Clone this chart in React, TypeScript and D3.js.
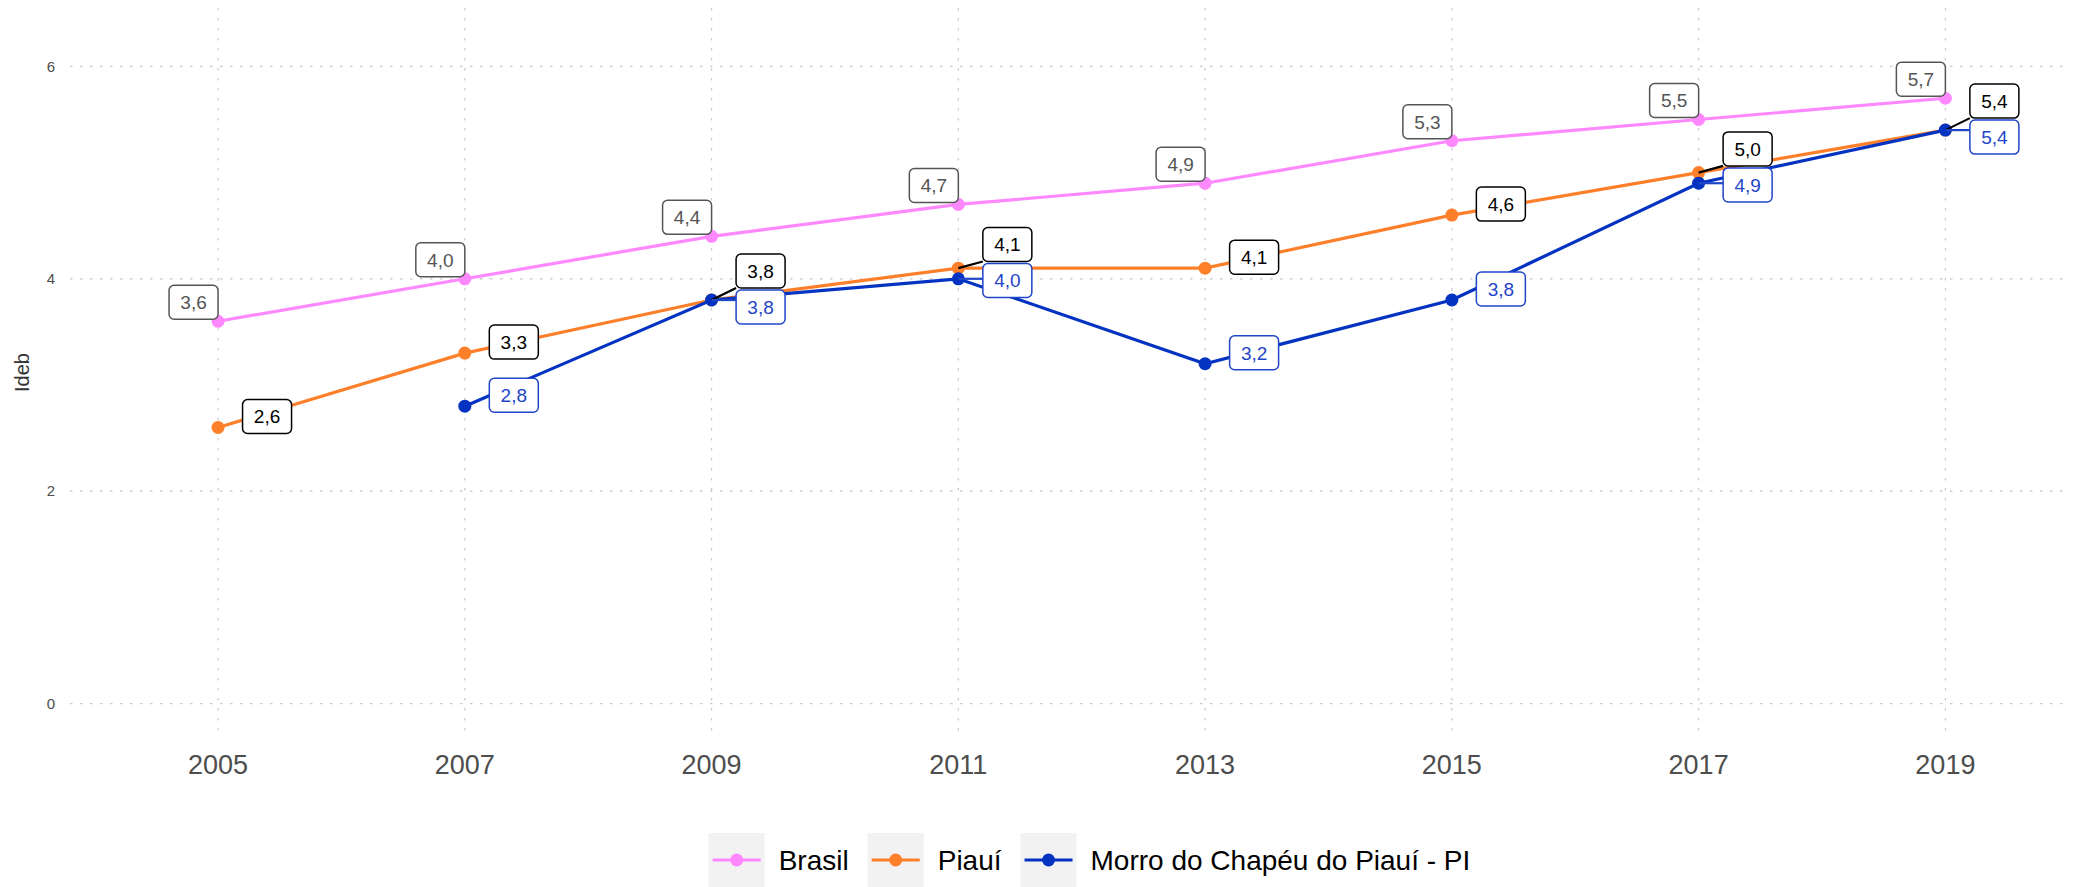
import React, { useRef, useEffect } from 'react';
import * as d3 from 'd3';

const years = [2005, 2007, 2009, 2011, 2013, 2015, 2017, 2019];
const brasil = [3.6, 4.0, 4.4, 4.7, 4.9, 5.3, 5.5, 5.7];
const piaui = [2.6, 3.3, 3.8, 4.1, 4.1, 4.6, 5.0, 5.4];
const morro = [null, 2.8, 3.8, 4.0, 3.2, 3.8, 4.9, 5.4];
const yTicks = [0, 2, 4, 6];
const seriesNames = ['Brasil', 'Piauí', 'Morro do Chapéu do Piauí - PI'];

const FONT = "'Liberation Sans', Arial, Helvetica, sans-serif";

const series = [
  { name: seriesNames[0], values: brasil, color: '#ff88ff', labelColor: '#555555', side: 'left' },
  { name: seriesNames[1], values: piaui, color: '#fe7f2a', labelColor: '#000000', side: 'right' },
  { name: seriesNames[2], values: morro, color: '#0433c2', labelColor: '#1f45c8', side: 'right' },
];

const fmt = (v) => v.toFixed(1).replace('.', ',');

const App = () => {
  const svgRef = useRef();

  useEffect(() => {
    const width = 2080;
    const height = 887;
    const panel = { left: 70, right: 2070, top: 8, bottom: 737 };

    const svg = d3.select(svgRef.current);
    svg.selectAll('*').remove();
    svg.attr('width', width).attr('height', height);

    const x = d3.scaleLinear().domain([2003.8, 2020.01]).range([panel.left, panel.right]);
    const y = d3.scaleLinear().domain([-0.315, 6.55]).range([panel.bottom, panel.top]);

    // grid
    const grid = svg.append('g');
    grid.selectAll('line.h')
      .data(yTicks)
      .enter()
      .append('line')
      .attr('x1', panel.left)
      .attr('x2', panel.right)
      .attr('y1', d => y(d))
      .attr('y2', d => y(d))
      .attr('stroke', '#c8c8c8')
      .attr('stroke-width', 1.2)
      .attr('stroke-dasharray', '2.5,7.5');
    grid.selectAll('line.v')
      .data(years)
      .enter()
      .append('line')
      .attr('x1', d => x(d))
      .attr('x2', d => x(d))
      .attr('y1', panel.top)
      .attr('y2', panel.bottom)
      .attr('stroke', '#c8c8c8')
      .attr('stroke-width', 1.2)
      .attr('stroke-dasharray', '2.5,7.5');

    // axes text
    svg.append('g')
      .selectAll('text')
      .data(yTicks)
      .enter()
      .append('text')
      .attr('x', 55)
      .attr('y', d => y(d))
      .attr('dy', '0.35em')
      .attr('text-anchor', 'end')
      .attr('font-family', FONT)
      .attr('font-size', 15)
      .attr('fill', '#4d4d4d')
      .text(d => d);

    svg.append('g')
      .selectAll('text')
      .data(years)
      .enter()
      .append('text')
      .attr('x', d => x(d))
      .attr('y', 774)
      .attr('text-anchor', 'middle')
      .attr('font-family', FONT)
      .attr('font-size', 27)
      .attr('fill', '#4d4d4d')
      .text(d => d);

    svg.append('text')
      .attr('transform', `translate(29,${(panel.top + panel.bottom) / 2}) rotate(-90)`)
      .attr('text-anchor', 'middle')
      .attr('font-family', FONT)
      .attr('font-size', 20)
      .attr('fill', '#333333')
      .text('Ideb');

    // lines and points
    const line = d3.line()
      .defined(d => d.v != null)
      .x(d => x(d.year))
      .y(d => y(d.v));

    series.forEach(s => {
      const pts = years.map((year, i) => ({ year, v: s.values[i] }));
      const g = svg.append('g');
      g.append('path')
        .datum(pts)
        .attr('d', line)
        .attr('fill', 'none')
        .attr('stroke', s.color)
        .attr('stroke-width', 3.2);
      g.selectAll('circle')
        .data(pts.filter(d => d.v != null))
        .enter()
        .append('circle')
        .attr('cx', d => x(d.year))
        .attr('cy', d => y(d.v))
        .attr('r', 6.5)
        .attr('fill', s.color);
    });

    // labels, with a small vertical repel for the right-hand ones
    const boxW = 49;
    const boxH = 34;
    const minSep = 36;
    const labels = [];
    series.forEach(s => {
      years.forEach((year, i) => {
        const v = s.values[i];
        if (v == null) return;
        const px = x(year);
        const py = y(v);
        const left = s.side === 'left';
        const cx = left ? px - 24.5 : px + 49;
        const cy = left ? py - 19 : py - 11;
        labels.push({ s, year, v, px, py, cx, cy, cy0: cy, left });
      });
    });

    years.forEach(year => {
      const group = labels.filter(l => l.year === year && !l.left);
      for (let it = 0; it < 20; it++) {
        group.sort((a, b) => a.cy - b.cy);
        for (let k = 0; k < group.length - 1; k++) {
          const a = group[k];
          const b = group[k + 1];
          const gap = b.cy - a.cy;
          if (gap < minSep) {
            const push = (minSep - gap) / 2;
            a.cy -= push;
            b.cy += push;
          }
        }
      }
    });

    const segs = svg.append('g');
    labels.forEach(l => {
      if (Math.abs(l.cy - l.cy0) < 5) return;
      const bx0 = l.cx - boxW / 2;
      const bx1 = l.cx + boxW / 2;
      const by0 = l.cy - boxH / 2;
      const by1 = l.cy + boxH / 2;
      const tx = Math.max(bx0, Math.min(l.px, bx1));
      const ty = Math.max(by0, Math.min(l.py, by1));
      segs.append('line')
        .attr('x1', l.px)
        .attr('y1', l.py)
        .attr('x2', tx)
        .attr('y2', ty)
        .attr('stroke', l.s.labelColor)
        .attr('stroke-width', 2.2);
    });

    const lab = svg.append('g');
    labels.forEach(l => {
      lab.append('rect')
        .attr('x', l.cx - boxW / 2)
        .attr('y', l.cy - boxH / 2)
        .attr('width', boxW)
        .attr('height', boxH)
        .attr('rx', 5)
        .attr('fill', '#ffffff')
        .attr('stroke', l.s.labelColor)
        .attr('stroke-width', 1.5);
      lab.append('text')
        .attr('x', l.cx)
        .attr('y', l.cy)
        .attr('dy', '0.36em')
        .attr('text-anchor', 'middle')
        .attr('font-family', FONT)
        .attr('font-size', 19)
        .attr('fill', l.s.labelColor)
        .text(fmt(l.v));
    });

    // legend
    const legend = svg.append('g');
    let lx = 0;
    const keyW = 56;
    const keyTop = 833;
    const keyH = 54;
    series.forEach(s => {
      const item = legend.append('g').attr('transform', `translate(${lx},0)`);
      item.append('rect')
        .attr('x', 0)
        .attr('y', keyTop)
        .attr('width', keyW)
        .attr('height', keyH)
        .attr('fill', '#f2f2f2');
      item.append('line')
        .attr('x1', 4)
        .attr('x2', keyW - 4)
        .attr('y1', keyTop + keyH / 2)
        .attr('y2', keyTop + keyH / 2)
        .attr('stroke', s.color)
        .attr('stroke-width', 3.2);
      item.append('circle')
        .attr('cx', keyW / 2)
        .attr('cy', keyTop + keyH / 2)
        .attr('r', 6.5)
        .attr('fill', s.color);
      const t = item.append('text')
        .attr('x', keyW + 14)
        .attr('y', keyTop + keyH / 2)
        .attr('dy', '0.35em')
        .attr('font-family', FONT)
        .attr('font-size', 28)
        .attr('fill', '#000000')
        .text(s.name);
      const tw = t.node().getComputedTextLength();
      lx += keyW + 14 + tw + 19;
    });
    const legendW = lx - 19;
    legend.attr('transform', `translate(${1089.5 - legendW / 2},0)`);
  }, []);

  return (
    <svg ref={svgRef} style={{ position: 'absolute', left: 0, top: 0, display: 'block' }}></svg>
  );
};

export default App;
